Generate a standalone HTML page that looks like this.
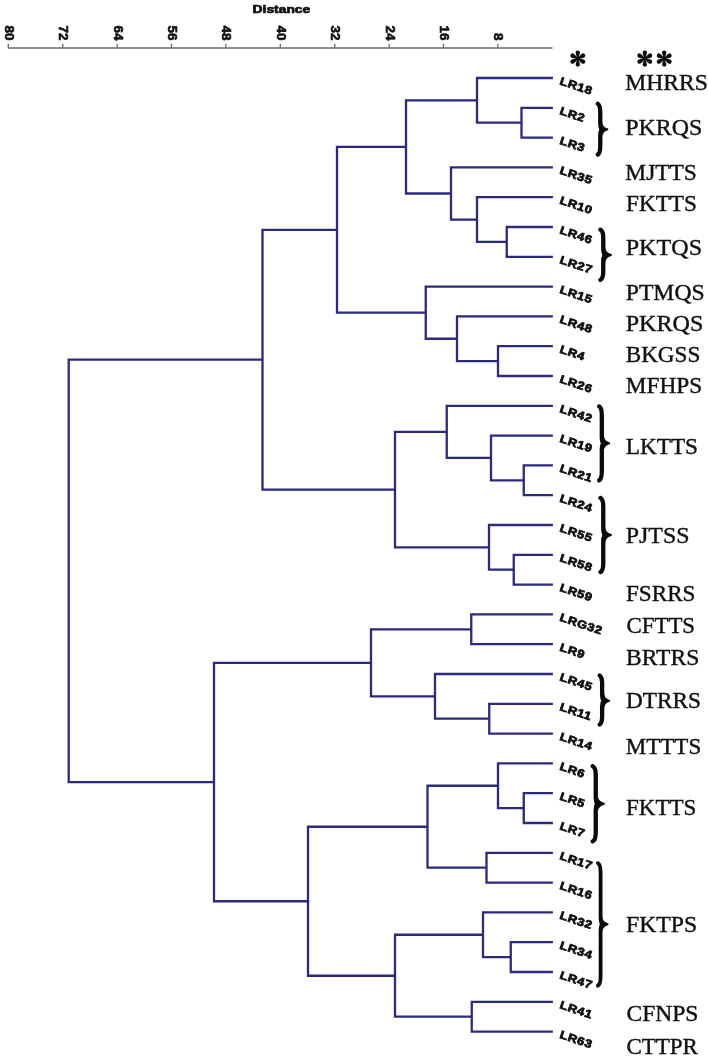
<!DOCTYPE html>
<html lang="en"><head><meta charset="utf-8"><title>Dendrogram</title>
<style>
html,body{margin:0;padding:0;background:#fff;}
body{width:708px;height:1058px;overflow:hidden;}
svg{display:block;filter:blur(0.4px);}
.sans{font-family:"Liberation Sans",sans-serif;font-weight:bold;fill:#111;}
.serif{font-family:"Liberation Serif",serif;fill:#111;}
</style></head><body>
<svg width="708" height="1058" viewBox="0 0 708 1058">
<rect width="708" height="1058" fill="#fff"/>
<g stroke="#6a6a6a" stroke-width="1.3" fill="none">
<path d="M7.9 48.0H552.5"/>
<path d="M8.30 48.0V43.8"/>
<path d="M62.70 48.0V43.8"/>
<path d="M117.10 48.0V43.8"/>
<path d="M171.50 48.0V43.8"/>
<path d="M225.90 48.0V43.8"/>
<path d="M280.30 48.0V43.8"/>
<path d="M334.70 48.0V43.8"/>
<path d="M389.10 48.0V43.8"/>
<path d="M443.50 48.0V43.8"/>
<path d="M497.90 48.0V43.8"/>
</g>
<text class="sans" font-size="12.2" text-anchor="end" stroke="#111" stroke-width="0.6" transform="translate(4.70 40.4) rotate(90) scale(1.1 1)">80</text>
<text class="sans" font-size="12.2" text-anchor="end" stroke="#111" stroke-width="0.6" transform="translate(59.10 40.4) rotate(90) scale(1.1 1)">72</text>
<text class="sans" font-size="12.2" text-anchor="end" stroke="#111" stroke-width="0.6" transform="translate(113.50 40.4) rotate(90) scale(1.1 1)">64</text>
<text class="sans" font-size="12.2" text-anchor="end" stroke="#111" stroke-width="0.6" transform="translate(167.90 40.4) rotate(90) scale(1.1 1)">56</text>
<text class="sans" font-size="12.2" text-anchor="end" stroke="#111" stroke-width="0.6" transform="translate(222.30 40.4) rotate(90) scale(1.1 1)">48</text>
<text class="sans" font-size="12.2" text-anchor="end" stroke="#111" stroke-width="0.6" transform="translate(276.70 40.4) rotate(90) scale(1.1 1)">40</text>
<text class="sans" font-size="12.2" text-anchor="end" stroke="#111" stroke-width="0.6" transform="translate(331.10 40.4) rotate(90) scale(1.1 1)">32</text>
<text class="sans" font-size="12.2" text-anchor="end" stroke="#111" stroke-width="0.6" transform="translate(385.50 40.4) rotate(90) scale(1.1 1)">24</text>
<text class="sans" font-size="12.2" text-anchor="end" stroke="#111" stroke-width="0.6" transform="translate(439.90 40.4) rotate(90) scale(1.1 1)">16</text>
<text class="sans" font-size="12.2" text-anchor="end" stroke="#111" stroke-width="0.6" transform="translate(494.30 40.4) rotate(90) scale(1.1 1)">8</text>
<text class="sans" font-size="11.6" x="252.6" y="13.0" stroke="#111" stroke-width="0.7" textLength="57.6" lengthAdjust="spacingAndGlyphs">Distance</text>
<g stroke="#2c2a7c" stroke-width="2.3" fill="none" stroke-linejoin="miter" stroke-linecap="butt">
<path d="M552.90 107.80H521.50V137.60H552.90"/>
<path d="M552.90 78.00H477.00V122.70H521.50"/>
<path d="M552.90 227.00H506.75V256.80H552.90"/>
<path d="M552.90 197.20H477.00V241.90H506.75"/>
<path d="M552.90 167.40H451.00V219.55H477.00"/>
<path d="M477.00 100.35H406.00V193.48H451.00"/>
<path d="M552.90 346.20H498.00V376.00H552.90"/>
<path d="M552.90 316.40H457.00V361.10H498.00"/>
<path d="M552.90 286.60H425.75V338.75H457.00"/>
<path d="M406.00 146.91H337.00V312.68H425.75"/>
<path d="M552.90 465.40H523.75V495.20H552.90"/>
<path d="M552.90 435.60H491.00V480.30H523.75"/>
<path d="M552.90 405.80H446.75V457.95H491.00"/>
<path d="M552.90 554.80H513.75V584.60H552.90"/>
<path d="M552.90 525.00H489.00V569.70H513.75"/>
<path d="M446.75 431.88H395.00V547.35H489.00"/>
<path d="M337.00 229.79H262.50V489.61H395.00"/>
<path d="M552.90 614.40H471.25V644.20H552.90"/>
<path d="M552.90 703.80H489.25V733.60H552.90"/>
<path d="M552.90 674.00H435.00V718.70H489.25"/>
<path d="M471.25 629.30H371.00V696.35H435.00"/>
<path d="M552.90 793.20H523.75V823.00H552.90"/>
<path d="M552.90 763.40H498.00V808.10H523.75"/>
<path d="M552.90 852.80H486.50V882.60H552.90"/>
<path d="M498.00 785.75H427.50V867.70H486.50"/>
<path d="M552.90 942.20H510.75V972.00H552.90"/>
<path d="M552.90 912.40H483.00V957.10H510.75"/>
<path d="M552.90 1001.80H471.75V1031.60H552.90"/>
<path d="M483.00 934.75H395.00V1016.70H471.75"/>
<path d="M427.50 826.73H308.00V975.73H395.00"/>
<path d="M371.00 662.83H214.00V901.23H308.00"/>
<path d="M262.50 359.70H68.70V782.03H214.00"/>
</g>
<text class="sans" font-size="11.2" letter-spacing="0.5" stroke="#0c0c0c" stroke-width="0.75" transform="translate(559.0 84.20) rotate(18.5) scale(1.15 1)">LR18</text>
<text class="sans" font-size="11.2" letter-spacing="0.5" stroke="#0c0c0c" stroke-width="0.75" transform="translate(559.0 114.00) rotate(18.5) scale(1.15 1)">LR2</text>
<text class="sans" font-size="11.2" letter-spacing="0.5" stroke="#0c0c0c" stroke-width="0.75" transform="translate(559.0 143.80) rotate(18.5) scale(1.15 1)">LR3</text>
<text class="sans" font-size="11.2" letter-spacing="0.5" stroke="#0c0c0c" stroke-width="0.75" transform="translate(559.0 173.60) rotate(18.5) scale(1.15 1)">LR35</text>
<text class="sans" font-size="11.2" letter-spacing="0.5" stroke="#0c0c0c" stroke-width="0.75" transform="translate(559.0 203.40) rotate(18.5) scale(1.15 1)">LR10</text>
<text class="sans" font-size="11.2" letter-spacing="0.5" stroke="#0c0c0c" stroke-width="0.75" transform="translate(559.0 233.20) rotate(18.5) scale(1.15 1)">LR46</text>
<text class="sans" font-size="11.2" letter-spacing="0.5" stroke="#0c0c0c" stroke-width="0.75" transform="translate(559.0 263.00) rotate(18.5) scale(1.15 1)">LR27</text>
<text class="sans" font-size="11.2" letter-spacing="0.5" stroke="#0c0c0c" stroke-width="0.75" transform="translate(559.0 292.80) rotate(18.5) scale(1.15 1)">LR15</text>
<text class="sans" font-size="11.2" letter-spacing="0.5" stroke="#0c0c0c" stroke-width="0.75" transform="translate(559.0 322.60) rotate(18.5) scale(1.15 1)">LR48</text>
<text class="sans" font-size="11.2" letter-spacing="0.5" stroke="#0c0c0c" stroke-width="0.75" transform="translate(559.0 352.40) rotate(18.5) scale(1.15 1)">LR4</text>
<text class="sans" font-size="11.2" letter-spacing="0.5" stroke="#0c0c0c" stroke-width="0.75" transform="translate(559.0 382.20) rotate(18.5) scale(1.15 1)">LR26</text>
<text class="sans" font-size="11.2" letter-spacing="0.5" stroke="#0c0c0c" stroke-width="0.75" transform="translate(559.0 412.00) rotate(18.5) scale(1.15 1)">LR42</text>
<text class="sans" font-size="11.2" letter-spacing="0.5" stroke="#0c0c0c" stroke-width="0.75" transform="translate(559.0 441.80) rotate(18.5) scale(1.15 1)">LR19</text>
<text class="sans" font-size="11.2" letter-spacing="0.5" stroke="#0c0c0c" stroke-width="0.75" transform="translate(559.0 471.60) rotate(18.5) scale(1.15 1)">LR21</text>
<text class="sans" font-size="11.2" letter-spacing="0.5" stroke="#0c0c0c" stroke-width="0.75" transform="translate(559.0 501.40) rotate(18.5) scale(1.15 1)">LR24</text>
<text class="sans" font-size="11.2" letter-spacing="0.5" stroke="#0c0c0c" stroke-width="0.75" transform="translate(559.0 531.20) rotate(18.5) scale(1.15 1)">LR55</text>
<text class="sans" font-size="11.2" letter-spacing="0.5" stroke="#0c0c0c" stroke-width="0.75" transform="translate(559.0 561.00) rotate(18.5) scale(1.15 1)">LR58</text>
<text class="sans" font-size="11.2" letter-spacing="0.5" stroke="#0c0c0c" stroke-width="0.75" transform="translate(559.0 590.80) rotate(18.5) scale(1.15 1)">LR59</text>
<text class="sans" font-size="11.2" letter-spacing="0.5" stroke="#0c0c0c" stroke-width="0.75" transform="translate(559.0 620.60) rotate(18.5) scale(1.15 1)">LRG32</text>
<text class="sans" font-size="11.2" letter-spacing="0.5" stroke="#0c0c0c" stroke-width="0.75" transform="translate(559.0 650.40) rotate(18.5) scale(1.15 1)">LR9</text>
<text class="sans" font-size="11.2" letter-spacing="0.5" stroke="#0c0c0c" stroke-width="0.75" transform="translate(559.0 680.20) rotate(18.5) scale(1.15 1)">LR45</text>
<text class="sans" font-size="11.2" letter-spacing="0.5" stroke="#0c0c0c" stroke-width="0.75" transform="translate(559.0 710.00) rotate(18.5) scale(1.15 1)">LR11</text>
<text class="sans" font-size="11.2" letter-spacing="0.5" stroke="#0c0c0c" stroke-width="0.75" transform="translate(559.0 739.80) rotate(18.5) scale(1.15 1)">LR14</text>
<text class="sans" font-size="11.2" letter-spacing="0.5" stroke="#0c0c0c" stroke-width="0.75" transform="translate(559.0 769.60) rotate(18.5) scale(1.15 1)">LR6</text>
<text class="sans" font-size="11.2" letter-spacing="0.5" stroke="#0c0c0c" stroke-width="0.75" transform="translate(559.0 799.40) rotate(18.5) scale(1.15 1)">LR5</text>
<text class="sans" font-size="11.2" letter-spacing="0.5" stroke="#0c0c0c" stroke-width="0.75" transform="translate(559.0 829.20) rotate(18.5) scale(1.15 1)">LR7</text>
<text class="sans" font-size="11.2" letter-spacing="0.5" stroke="#0c0c0c" stroke-width="0.75" transform="translate(559.0 859.00) rotate(18.5) scale(1.15 1)">LR17</text>
<text class="sans" font-size="11.2" letter-spacing="0.5" stroke="#0c0c0c" stroke-width="0.75" transform="translate(559.0 888.80) rotate(18.5) scale(1.15 1)">LR16</text>
<text class="sans" font-size="11.2" letter-spacing="0.5" stroke="#0c0c0c" stroke-width="0.75" transform="translate(559.0 918.60) rotate(18.5) scale(1.15 1)">LR32</text>
<text class="sans" font-size="11.2" letter-spacing="0.5" stroke="#0c0c0c" stroke-width="0.75" transform="translate(559.0 948.40) rotate(18.5) scale(1.15 1)">LR34</text>
<text class="sans" font-size="11.2" letter-spacing="0.5" stroke="#0c0c0c" stroke-width="0.75" transform="translate(559.0 978.20) rotate(18.5) scale(1.15 1)">LR47</text>
<text class="sans" font-size="11.2" letter-spacing="0.5" stroke="#0c0c0c" stroke-width="0.75" transform="translate(559.0 1008.00) rotate(18.5) scale(1.15 1)">LR41</text>
<text class="sans" font-size="11.2" letter-spacing="0.5" stroke="#0c0c0c" stroke-width="0.75" transform="translate(559.0 1037.80) rotate(18.5) scale(1.15 1)">LR63</text>
<g fill="#0a0a0a" transform="translate(577.8 58.6) scale(1.06 1.04)"><path d="M-0.75 -0.3C-0.95 -2.6 -2.05 -4.2 -2.05 -5.75A2.05 2.05 0 0 1 2.05 -5.75C2.05 -4.2 0.95 -2.6 0.75 -0.3Z" transform="rotate(0)"/><path d="M-0.75 -0.3C-0.95 -2.6 -2.05 -4.2 -2.05 -5.75A2.05 2.05 0 0 1 2.05 -5.75C2.05 -4.2 0.95 -2.6 0.75 -0.3Z" transform="rotate(60)"/><path d="M-0.75 -0.3C-0.95 -2.6 -2.05 -4.2 -2.05 -5.75A2.05 2.05 0 0 1 2.05 -5.75C2.05 -4.2 0.95 -2.6 0.75 -0.3Z" transform="rotate(120)"/><path d="M-0.75 -0.3C-0.95 -2.6 -2.05 -4.2 -2.05 -5.75A2.05 2.05 0 0 1 2.05 -5.75C2.05 -4.2 0.95 -2.6 0.75 -0.3Z" transform="rotate(180)"/><path d="M-0.75 -0.3C-0.95 -2.6 -2.05 -4.2 -2.05 -5.75A2.05 2.05 0 0 1 2.05 -5.75C2.05 -4.2 0.95 -2.6 0.75 -0.3Z" transform="rotate(240)"/><path d="M-0.75 -0.3C-0.95 -2.6 -2.05 -4.2 -2.05 -5.75A2.05 2.05 0 0 1 2.05 -5.75C2.05 -4.2 0.95 -2.6 0.75 -0.3Z" transform="rotate(300)"/><circle r="1.1"/></g>
<g fill="#0a0a0a" transform="translate(644.8 58.6) scale(1.06 1.04)"><path d="M-0.75 -0.3C-0.95 -2.6 -2.05 -4.2 -2.05 -5.75A2.05 2.05 0 0 1 2.05 -5.75C2.05 -4.2 0.95 -2.6 0.75 -0.3Z" transform="rotate(0)"/><path d="M-0.75 -0.3C-0.95 -2.6 -2.05 -4.2 -2.05 -5.75A2.05 2.05 0 0 1 2.05 -5.75C2.05 -4.2 0.95 -2.6 0.75 -0.3Z" transform="rotate(60)"/><path d="M-0.75 -0.3C-0.95 -2.6 -2.05 -4.2 -2.05 -5.75A2.05 2.05 0 0 1 2.05 -5.75C2.05 -4.2 0.95 -2.6 0.75 -0.3Z" transform="rotate(120)"/><path d="M-0.75 -0.3C-0.95 -2.6 -2.05 -4.2 -2.05 -5.75A2.05 2.05 0 0 1 2.05 -5.75C2.05 -4.2 0.95 -2.6 0.75 -0.3Z" transform="rotate(180)"/><path d="M-0.75 -0.3C-0.95 -2.6 -2.05 -4.2 -2.05 -5.75A2.05 2.05 0 0 1 2.05 -5.75C2.05 -4.2 0.95 -2.6 0.75 -0.3Z" transform="rotate(240)"/><path d="M-0.75 -0.3C-0.95 -2.6 -2.05 -4.2 -2.05 -5.75A2.05 2.05 0 0 1 2.05 -5.75C2.05 -4.2 0.95 -2.6 0.75 -0.3Z" transform="rotate(300)"/><circle r="1.1"/></g>
<g fill="#0a0a0a" transform="translate(664.2 58.6) scale(1.06 1.04)"><path d="M-0.75 -0.3C-0.95 -2.6 -2.05 -4.2 -2.05 -5.75A2.05 2.05 0 0 1 2.05 -5.75C2.05 -4.2 0.95 -2.6 0.75 -0.3Z" transform="rotate(0)"/><path d="M-0.75 -0.3C-0.95 -2.6 -2.05 -4.2 -2.05 -5.75A2.05 2.05 0 0 1 2.05 -5.75C2.05 -4.2 0.95 -2.6 0.75 -0.3Z" transform="rotate(60)"/><path d="M-0.75 -0.3C-0.95 -2.6 -2.05 -4.2 -2.05 -5.75A2.05 2.05 0 0 1 2.05 -5.75C2.05 -4.2 0.95 -2.6 0.75 -0.3Z" transform="rotate(120)"/><path d="M-0.75 -0.3C-0.95 -2.6 -2.05 -4.2 -2.05 -5.75A2.05 2.05 0 0 1 2.05 -5.75C2.05 -4.2 0.95 -2.6 0.75 -0.3Z" transform="rotate(180)"/><path d="M-0.75 -0.3C-0.95 -2.6 -2.05 -4.2 -2.05 -5.75A2.05 2.05 0 0 1 2.05 -5.75C2.05 -4.2 0.95 -2.6 0.75 -0.3Z" transform="rotate(240)"/><path d="M-0.75 -0.3C-0.95 -2.6 -2.05 -4.2 -2.05 -5.75A2.05 2.05 0 0 1 2.05 -5.75C2.05 -4.2 0.95 -2.6 0.75 -0.3Z" transform="rotate(300)"/><circle r="1.1"/></g>
<text class="serif" font-size="22.8" stroke="#111" stroke-width="0.4" transform="translate(625.30 90.30) scale(1.0340 1)">MHRRS</text>
<text class="serif" font-size="22.8" stroke="#111" stroke-width="0.4" transform="translate(625.30 134.70) scale(1.0495 1)">PKRQS</text>
<text class="serif" font-size="22.8" stroke="#111" stroke-width="0.4" transform="translate(625.30 180.00) scale(1.0278 1)">MJTTS</text>
<text class="serif" font-size="22.8" stroke="#111" stroke-width="0.4" transform="translate(626.00 210.80) scale(1.0174 1)">FKTTS</text>
<text class="serif" font-size="22.8" stroke="#111" stroke-width="0.4" transform="translate(625.70 254.70) scale(1.0578 1)">PKTQS</text>
<text class="serif" font-size="22.8" stroke="#111" stroke-width="0.4" transform="translate(625.70 299.70) scale(1.0391 1)">PTMQS</text>
<text class="serif" font-size="22.8" stroke="#111" stroke-width="0.4" transform="translate(625.70 330.80) scale(1.0578 1)">PKRQS</text>
<text class="serif" font-size="22.8" stroke="#111" stroke-width="0.4" transform="translate(625.70 361.70) scale(1.0153 1)">BKGSS</text>
<text class="serif" font-size="22.8" stroke="#111" stroke-width="0.4" transform="translate(625.70 393.30) scale(1.0226 1)">MFHPS</text>
<text class="serif" font-size="22.8" stroke="#111" stroke-width="0.4" transform="translate(625.70 453.70) scale(1.0205 1)">LKTTS</text>
<text class="serif" font-size="22.8" stroke="#111" stroke-width="0.4" transform="translate(625.70 542.50) scale(1.0485 1)">PJTSS</text>
<text class="serif" font-size="22.8" stroke="#111" stroke-width="0.4" transform="translate(626.00 601.30) scale(1.0153 1)">FSRRS</text>
<text class="serif" font-size="22.8" stroke="#111" stroke-width="0.4" transform="translate(626.50 632.50) scale(1.0019 1)">CFTTS</text>
<text class="serif" font-size="22.8" stroke="#111" stroke-width="0.4" transform="translate(626.00 665.00) scale(1.0350 1)">BRTRS</text>
<text class="serif" font-size="22.8" stroke="#111" stroke-width="0.4" transform="translate(626.00 708.30) scale(1.0205 1)">DTRRS</text>
<text class="serif" font-size="22.8" stroke="#111" stroke-width="0.4" transform="translate(625.70 753.70) scale(1.0112 1)">MTTTS</text>
<text class="serif" font-size="22.8" stroke="#111" stroke-width="0.4" transform="translate(626.00 814.70) scale(1.0102 1)">FKTTS</text>
<text class="serif" font-size="22.8" stroke="#111" stroke-width="0.4" transform="translate(626.00 932.30) scale(1.0391 1)">FKTPS</text>
<text class="serif" font-size="22.8" stroke="#111" stroke-width="0.4" transform="translate(626.50 1021.20) scale(1.0319 1)">CFNPS</text>
<text class="serif" font-size="22.8" stroke="#111" stroke-width="0.4" transform="translate(626.50 1053.70) scale(1.0060 1)">CTTPR</text>
<path fill="none" stroke="#0a0a0a" stroke-width="4.3" stroke-linecap="round" stroke-linejoin="round" d="M597.75 103.75C599.66 104.95 600.26 107.90 600.26 112.60L600.26 123.40C600.26 126.40 600.86 127.90 601.46 129.40C600.86 130.90 600.26 132.40 600.26 135.40L600.26 145.80C600.26 150.50 599.66 153.45 597.75 154.65"/><path fill="#0a0a0a" d="M602.11 120.40C602.41 126.20 605.00 127.80 608.20 128.50L608.20 130.30C605.00 131.00 602.41 132.60 602.11 138.40Z"/>
<path fill="none" stroke="#0a0a0a" stroke-width="4.3" stroke-linecap="round" stroke-linejoin="round" d="M600.45 229.65C602.66 230.85 603.26 233.80 603.26 238.50L603.26 249.00C603.26 252.00 603.86 253.50 604.46 255.00C603.86 256.50 603.26 258.00 603.26 261.00L603.26 271.00C603.26 275.70 602.66 278.65 600.45 279.85"/><path fill="#0a0a0a" d="M605.11 246.00C605.41 251.80 608.50 253.40 611.70 254.10L611.70 255.90C608.50 256.60 605.41 258.20 605.11 264.00Z"/>
<path fill="none" stroke="#0a0a0a" stroke-width="4.3" stroke-linecap="round" stroke-linejoin="round" d="M599.15 406.45C601.21 407.65 601.81 410.60 601.81 415.30L601.81 437.30C601.81 440.30 602.41 441.80 603.01 443.30C602.41 444.80 601.81 446.30 601.81 449.30L601.81 471.50C601.81 476.20 601.21 479.15 599.15 480.35"/><path fill="#0a0a0a" d="M603.66 434.30C603.96 440.10 606.80 441.70 610.00 442.40L610.00 444.20C606.80 444.90 603.96 446.50 603.66 452.30Z"/>
<path fill="none" stroke="#0a0a0a" stroke-width="4.3" stroke-linecap="round" stroke-linejoin="round" d="M600.45 497.95C602.66 499.15 603.26 502.10 603.26 506.80L603.26 529.00C603.26 532.00 603.86 533.50 604.46 535.00C603.86 536.50 603.26 538.00 603.26 541.00L603.26 563.20C603.26 567.90 602.66 570.85 600.45 572.05"/><path fill="#0a0a0a" d="M605.11 526.00C605.41 531.80 608.50 533.40 611.70 534.10L611.70 535.90C608.50 536.60 605.41 538.20 605.11 544.00Z"/>
<path fill="none" stroke="#0a0a0a" stroke-width="4.3" stroke-linecap="round" stroke-linejoin="round" d="M599.65 675.45C601.52 676.65 602.12 679.60 602.12 684.30L602.12 694.80C602.12 697.80 602.73 699.30 603.33 700.80C602.73 702.30 602.12 703.80 602.12 706.80L602.12 715.70C602.12 720.40 601.52 723.35 599.65 724.55"/><path fill="#0a0a0a" d="M603.98 691.80C604.27 697.60 606.80 699.20 610.00 699.90L610.00 701.70C606.80 702.40 604.27 704.00 603.98 709.80Z"/>
<path fill="none" stroke="#0a0a0a" stroke-width="4.3" stroke-linecap="round" stroke-linejoin="round" d="M592.65 766.15C595.15 767.35 595.75 770.30 595.75 775.00L595.75 797.80C595.75 800.80 596.35 802.30 596.95 803.80C596.35 805.30 595.75 806.80 595.75 809.80L595.75 832.50C595.75 837.20 595.15 840.15 592.65 841.35"/><path fill="#0a0a0a" d="M597.60 794.80C597.90 800.60 601.50 802.20 604.70 802.90L604.70 804.70C601.50 805.40 597.90 807.00 597.60 812.80Z"/>
<path fill="none" stroke="#0a0a0a" stroke-width="3.8" stroke-linecap="round" stroke-linejoin="round" d="M597.90 863.20C599.99 864.40 600.59 867.60 600.59 872.30L600.59 918.30C600.59 921.30 601.19 922.80 601.79 924.30C601.19 925.80 600.59 927.30 600.59 930.30L600.59 976.60C600.59 981.30 599.99 984.50 597.90 985.70"/><path fill="#0a0a0a" d="M602.19 915.30C602.49 921.10 605.20 922.70 608.40 923.40L608.40 925.20C605.20 925.90 602.49 927.50 602.19 933.30Z"/>
</svg>
</body></html>
